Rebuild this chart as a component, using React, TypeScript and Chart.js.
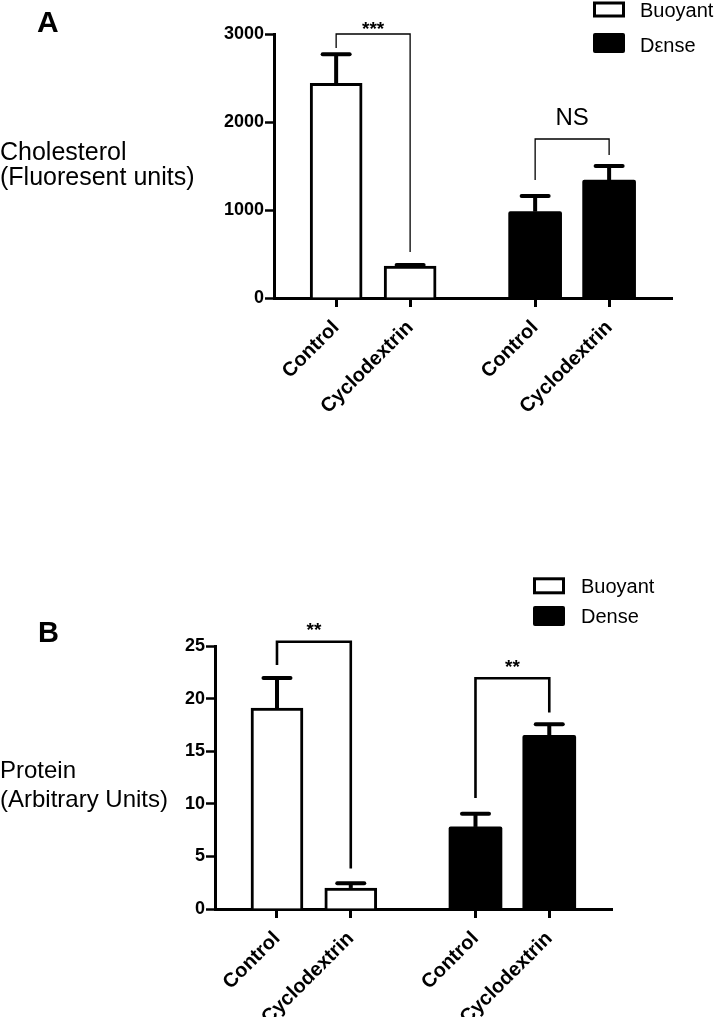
import React, { useEffect, useRef } from "react";
import { Chart, registerables } from "chart.js";

Chart.register(...registerables);

const FONT = '"Liberation Sans", Arial, Helvetica, sans-serif';

// ---------- data ----------
const categories = ["Control", "Cyclodextrin", "Control", "Cyclodextrin"];
const catPositions = [1, 2, 3.69, 4.69];
const buoyantIdx = [0, 1];
const denseIdx = [2, 3];

const seriesNamesA = ["Buoyant", "Dεnse"];
const seriesNamesB = ["Buoyant", "Dense"];

const cholBuoyant = [2440, 364];
const cholBuoyantErr = [330, 12];
const cholDense = [981, 1341];
const cholDenseErr = [178, 159];
const cholTicks = [0, 1000, 2000, 3000];

const protBuoyant = [19.1, 2.0];
const protBuoyantErr = [2.85, 0.45];
const protDense = [7.8, 16.5];
const protDenseErr = [1.25, 1.05];
const protTicks = [0, 5, 10, 15, 20, 25];

// significance brackets (values in data units)
const cholSigLabels = ["***", "NS"];
const cholSigFrom = [0, 2];
const cholSigTo = [1, 3];
const cholSigLevel = [3000, 1807];
const cholSigLeftEnd = [2841, 1341];
const cholSigRightEnd = [523, 1625];
const cholSigLabelAt = [3097, 2057];

const protSigLabels = ["**", "**"];
const protSigFrom = [0, 2];
const protSigTo = [1, 3];
const protSigLevel = [25.4, 21.94];
const protSigLeftEnd = [23.2, 10.54];
const protSigRightEnd = [3.84, 18.67];
const protSigLabelAt = [26.9, 23.34];

// ---------- plugins ----------
const errorBarPlugin = {
  id: "errorBars",
  afterDatasetsDraw(chart: any, _args: any, opts: any) {
    const { ctx } = chart;
    const yScale = chart.scales.y;
    chart.data.datasets.forEach((ds: any, di: number) => {
      const errs = opts.errors[di];
      const meta = chart.getDatasetMeta(di);
      meta.data.forEach((el: any, i: number) => {
        const v = ds.data[i].y;
        const e = errs[i];
        const x = el.x;
        const y0 = yScale.getPixelForValue(v);
        const y1 = yScale.getPixelForValue(v + e);
        ctx.save();
        ctx.strokeStyle = "#000";
        ctx.lineWidth = opts.lineWidth;
        ctx.beginPath();
        ctx.moveTo(x, y0);
        ctx.lineTo(x, y1);
        ctx.stroke();
        ctx.lineCap = "round";
        ctx.beginPath();
        ctx.moveTo(x - opts.capWidth / 2, y1);
        ctx.lineTo(x + opts.capWidth / 2, y1);
        ctx.stroke();
        ctx.restore();
      });
    });
  },
};

const bracketPlugin = {
  id: "brackets",
  afterDraw(chart: any, _args: any, opts: any) {
    const { ctx } = chart;
    const xs = chart.scales.x;
    const ys = chart.scales.y;
    opts.labels.forEach((label: string, i: number) => {
      const x1 = xs.getPixelForValue(catPositions[opts.from[i]]);
      const x2 = xs.getPixelForValue(catPositions[opts.to[i]]);
      const yl = ys.getPixelForValue(opts.level[i]);
      const ya = ys.getPixelForValue(opts.leftEnd[i]);
      const yb = ys.getPixelForValue(opts.rightEnd[i]);
      ctx.save();
      ctx.strokeStyle = "#000";
      ctx.lineWidth = opts.lineWidth;
      ctx.beginPath();
      ctx.moveTo(x1, ya);
      ctx.lineTo(x1, yl);
      ctx.lineTo(x2, yl);
      ctx.lineTo(x2, yb);
      ctx.stroke();
      const font = label === "NS" ? opts.nsFont : opts.starFont;
      ctx.font = font;
      ctx.fillStyle = "#000";
      ctx.textAlign = "center";
      ctx.textBaseline = "alphabetic";
      const m = ctx.measureText(label);
      const target = ys.getPixelForValue(opts.labelAt[i]);
      const base = target + (m.actualBoundingBoxAscent - m.actualBoundingBoxDescent) / 2;
      ctx.fillText(label, (x1 + x2) / 2, base);
      ctx.restore();
    });
  },
};

const decorPlugin = {
  id: "decor",
  afterDraw(chart: any, _args: any, opts: any) {
    const { ctx } = chart;
    ctx.save();
    ctx.fillStyle = "#000";
    ctx.textAlign = "left";
    ctx.textBaseline = "alphabetic";
    // panel letter
    ctx.font = opts.letterFont;
    ctx.fillText(opts.letter, opts.letterX, opts.letterY);
    // horizontal y title
    ctx.font = opts.titleFont;
    opts.titleLines.forEach((t: string, i: number) => {
      ctx.fillText(t, opts.titleX, opts.titleY[i]);
    });
    // legend
    ctx.font = opts.legendFont;
    chart.data.datasets.forEach((ds: any, i: number) => {
      const b = opts.boxes[i];
      if (ds.backgroundColor === "#ffffff") {
        ctx.fillStyle = "#000";
        ctx.fillRect(b[0], b[1], b[2], b[3]);
        ctx.fillStyle = "#fff";
        ctx.fillRect(b[0] + 3, b[1] + 3, b[2] - 6, b[3] - 6);
      } else {
        ctx.fillStyle = "#000";
        ctx.beginPath();
        (ctx as any).roundRect(b[0], b[1], b[2], b[3], 2);
        ctx.fill();
      }
      ctx.fillStyle = "#000";
      ctx.fillText(ds.label, opts.legendTextX, opts.legendTextY[i]);
    });
    ctx.restore();
  },
};

// ---------- chart factory ----------
function makeConfig(p: any) {
  return {
    type: "bar",
    data: {
      datasets: [
        {
          label: p.names[0],
          data: buoyantIdx.map((ci, k) => ({ x: catPositions[ci], y: p.buoyant[k] })),
          backgroundColor: "#ffffff",
          borderColor: "#000000",
          borderWidth: 3,
          borderSkipped: "start",
          barThickness: 52,
          grouped: false,
        },
        {
          label: p.names[1],
          data: denseIdx.map((ci, k) => ({ x: catPositions[ci], y: p.dense[k] })),
          backgroundColor: "#000000",
          borderColor: "#000000",
          borderWidth: 0,
          borderRadius: 2,
          barThickness: 53,
          grouped: false,
        },
      ],
    },
    options: {
      animation: false,
      responsive: false,
      events: [],
      layout: { padding: p.padding },
      plugins: {
        legend: { display: false },
        tooltip: { enabled: false },
        errorBars: { errors: [p.buoyantErr, p.denseErr], lineWidth: 4, capWidth: 27 },
        brackets: {
          labels: p.sig.labels,
          from: p.sig.from,
          to: p.sig.to,
          level: p.sig.level,
          leftEnd: p.sig.leftEnd,
          rightEnd: p.sig.rightEnd,
          labelAt: p.sig.labelAt,
          lineWidth: p.sig.lineWidth,
          starFont: `bold 19px ${FONT}`,
          nsFont: `24px ${FONT}`,
        },
        decor: p.decor,
      },
      scales: {
        x: {
          type: "linear",
          min: 0.16,
          max: 5.54,
          offset: false,
          afterBuildTicks: (scale: any) => {
            scale.ticks = catPositions.map((v) => ({ value: v }));
          },
          afterFit: (scale: any) => {
            scale.height = p.xAxisHeight;
          },
          grid: {
            display: true,
            offset: false,
            drawOnChartArea: false,
            drawTicks: true,
            tickLength: 9,
            tickWidth: 3,
            tickColor: "#000",
          },
          border: { display: true, color: "#000", width: 3 },
          ticks: {
            autoSkip: false,
            minRotation: 45,
            maxRotation: 45,
            padding: 9,
            color: "#000",
            font: { family: FONT, size: 20, weight: "bold" },
            callback: (v: number) => {
              const i = catPositions.indexOf(v);
              return i >= 0 ? categories[i] : "";
            },
          },
        },
        y: {
          type: "linear",
          min: p.yTicks[0],
          max: p.yTicks[p.yTicks.length - 1],
          afterBuildTicks: (scale: any) => {
            scale.ticks = p.yTicks.map((v: number) => ({ value: v }));
          },
          afterFit: (scale: any) => {
            scale.width = p.yAxisWidth;
          },
          grid: {
            display: true,
            drawOnChartArea: false,
            drawTicks: true,
            tickLength: 9,
            tickWidth: 2.5,
            tickColor: "#000",
          },
          border: { display: true, color: "#000", width: 3 },
          ticks: {
            padding: 1,
            color: "#000",
            font: { family: FONT, size: 18, weight: "bold" },
            callback: (v: number) => String(v),
          },
        },
      },
    },
    plugins: [errorBarPlugin, bracketPlugin, decorPlugin],
  };
}

const panelA = {
  canvasTop: 0,
  canvasHeight: 470,
  names: seriesNamesA,
  buoyant: cholBuoyant,
  buoyantErr: cholBuoyantErr,
  dense: cholDense,
  denseErr: cholDenseErr,
  yTicks: cholTicks,
  yAxisWidth: 274,
  xAxisHeight: 150,
  padding: { left: 0, right: 46, top: 34, bottom: 22 },
  sig: {
    labels: cholSigLabels,
    from: cholSigFrom,
    to: cholSigTo,
    level: cholSigLevel,
    leftEnd: cholSigLeftEnd,
    rightEnd: cholSigRightEnd,
    labelAt: cholSigLabelAt,
    lineWidth: 1.3,
  },
  decor: {
    letter: "A",
    letterFont: `bold 30px ${FONT}`,
    letterX: 37,
    letterY: 32,
    titleLines: ["Cholesterol", "(Fluoresent units)"],
    titleFont: `25px ${FONT}`,
    titleX: 0,
    titleY: [159.5, 184.5],
    legendFont: `20px ${FONT}`,
    boxes: [
      [593, 1.5, 32, 16],
      [593, 33, 32, 20],
    ],
    legendTextX: 640,
    legendTextY: [16.7, 51.7],
  },
};

const panelB = {
  canvasTop: 470,
  canvasHeight: 548,
  names: seriesNamesB,
  buoyant: protBuoyant,
  buoyantErr: protBuoyantErr,
  dense: protDense,
  denseErr: protDenseErr,
  yTicks: protTicks,
  yAxisWidth: 215,
  xAxisHeight: 108,
  padding: { left: 0, right: 106, top: 176, bottom: 1 },
  sig: {
    labels: protSigLabels,
    from: protSigFrom,
    to: protSigTo,
    level: protSigLevel,
    leftEnd: protSigLeftEnd,
    rightEnd: protSigRightEnd,
    labelAt: protSigLabelAt,
    lineWidth: 2.6,
  },
  decor: {
    letter: "B",
    letterFont: `bold 29px ${FONT}`,
    letterX: 38,
    letterY: 172,
    titleLines: ["Protein", "(Arbitrary Units)"],
    titleFont: `24px ${FONT}`,
    titleX: 0,
    titleY: [308.3, 336.7],
    legendFont: `20px ${FONT}`,
    boxes: [
      [533, 107.3, 32, 17],
      [533, 136, 32, 20],
    ],
    legendTextX: 581,
    legendTextY: [123.3, 152.7],
  },
};

function Panel({ cfg }: { cfg: any }) {
  const ref = useRef<HTMLCanvasElement | null>(null);
  useEffect(() => {
    if (!ref.current) return;
    const chart = new Chart(ref.current, makeConfig(cfg) as any);
    return () => chart.destroy();
  }, [cfg]);
  return (
    <canvas
      ref={ref}
      width={718}
      height={cfg.canvasHeight}
      style={{
        position: "absolute",
        left: 0,
        top: cfg.canvasTop,
        width: 718,
        height: cfg.canvasHeight,
      }}
    />
  );
}

export default function App() {
  return (
    <div
      style={{
        position: "absolute",
        left: 0,
        top: 0,
        width: 718,
        height: 1018,
        background: "#ffffff",
        overflow: "hidden",
      }}
    >
      <Panel cfg={panelA} />
      <Panel cfg={panelB} />
    </div>
  );
}
